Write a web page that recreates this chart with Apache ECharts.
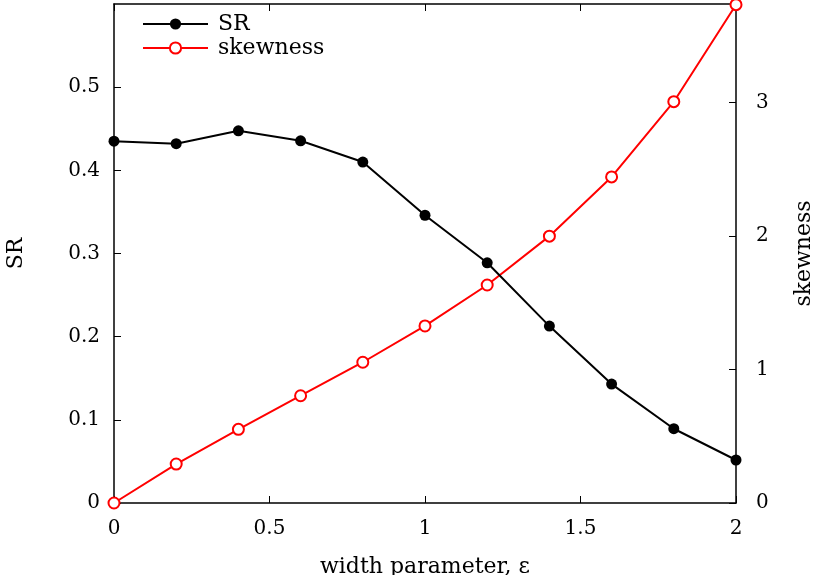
<!DOCTYPE html>
<html>
<head>
<meta charset="utf-8">
<script src="https://cdn.jsdelivr.net/npm/echarts@6/dist/echarts.min.js"></script>
<style>html,body{margin:0;padding:0;background:#fff}#c{width:817px;height:575px}</style>
</head>
<body>
<div id="c"></div>
<script>
const widthParam = [0, 0.2, 0.4, 0.6, 0.8, 1.0, 1.2, 1.4, 1.6, 1.8, 2.0];
const srValues = [0.435, 0.432, 0.4475, 0.4355, 0.410, 0.346, 0.2888, 0.2127, 0.143, 0.0893, 0.0517];
const skewValues = [0, 0.292, 0.552, 0.804, 1.055, 1.327, 1.634, 2.0, 2.444, 3.008, 3.735];
const xTicks = [0, 0.5, 1, 1.5, 2];
const srTicks = [0, 0.1, 0.2, 0.3, 0.4, 0.5];
const skewTicks = [0, 1, 2, 3];

const FONT = 'DejaVu Serif';
const chart = echarts.init(document.getElementById('c'), null, {renderer: 'canvas'});
const axisLine = {show: true, onZero: false, lineStyle: {color: '#000', width: 1.5}};
const fmt = (ticks) => (v) => {
  const t = ticks.find(t => Math.abs(t - v) < 1e-9);
  return t === undefined ? '' : String(t);
};
chart.setOption({
  animation: false,
  textStyle: {fontFamily: FONT},
  grid: {left: 114, right: 81, top: 4, bottom: 72, containLabel: false, outerBoundsMode: 'none'},
  legend: {
    orient: 'vertical', left: 142, top: 13, itemGap: 2, padding: 0,
    itemWidth: 65, itemHeight: 14,
    textStyle: {fontFamily: FONT, fontSize: 22, color: '#000', padding: [0,0,0,5]},
    data: ['SR', 'skewness']
  },
  xAxis: [{
    type: 'value', min: 0, max: 2, interval: 0.5, position: 'bottom',
    axisLine: axisLine,
    axisTick: {show: true, inside: true, length: 7, lineStyle: {color: '#000'}},
    splitLine: {show: false},
    axisLabel: {fontFamily: FONT, fontSize: 20, color: '#000', margin: 16, formatter: fmt(xTicks)},
    name: 'width parameter, ε', nameLocation: 'middle', nameGap: 53,
    nameTextStyle: {fontFamily: FONT, fontSize: 22, color: '#000'}
  }, {
    type: 'value', min: 0, max: 2, interval: 0.5, position: 'top',
    axisLine: axisLine,
    axisTick: {show: true, inside: true, length: 7, lineStyle: {color: '#000'}},
    splitLine: {show: false}, axisLabel: {show: false}
  }],
  yAxis: [{
    type: 'value', min: 0, max: 0.6, interval: 0.1, position: 'left',
    axisLine: axisLine,
    axisTick: {show: true, inside: true, length: 7, lineStyle: {color: '#000'}},
    splitLine: {show: false},
    axisLabel: {fontFamily: FONT, fontSize: 20, color: '#000', margin: 14, showMaxLabel: false, formatter: fmt(srTicks)},
    name: 'SR', nameLocation: 'middle', nameGap: 87, nameRotate: 90,
    nameTextStyle: {fontFamily: FONT, fontSize: 22, color: '#000'}
  }, {
    type: 'value', min: 0, max: 3.74, interval: 1, position: 'right',
    axisLine: axisLine,
    axisTick: {show: true, inside: true, length: 7, lineStyle: {color: '#000'}},
    splitLine: {show: false},
    axisLabel: {fontFamily: FONT, fontSize: 20, color: '#000', margin: 20, showMaxLabel: false, formatter: fmt(skewTicks)},
    name: 'skewness', nameLocation: 'middle', nameGap: 57, nameRotate: 90,
    nameTextStyle: {fontFamily: FONT, fontSize: 22, color: '#000'}
  }],
  series: [{
    name: 'SR', type: 'line', xAxisIndex: 0, yAxisIndex: 0,
    data: widthParam.map((x, i) => [x, srValues[i]]),
    symbol: 'circle', symbolSize: 11,
    lineStyle: {color: '#000', width: 2},
    itemStyle: {color: '#000'},
    z: 3
  }, {
    name: 'skewness', type: 'line', xAxisIndex: 0, yAxisIndex: 1,
    data: widthParam.map((x, i) => [x, skewValues[i]]),
    symbol: 'emptyCircle', symbolSize: 11,
    lineStyle: {color: '#f00', width: 2},
    itemStyle: {color: '#f00', borderColor: '#f00', borderWidth: 2},
    clip: false,
    z: 2
  }]
});
</script>
</body>
</html>
